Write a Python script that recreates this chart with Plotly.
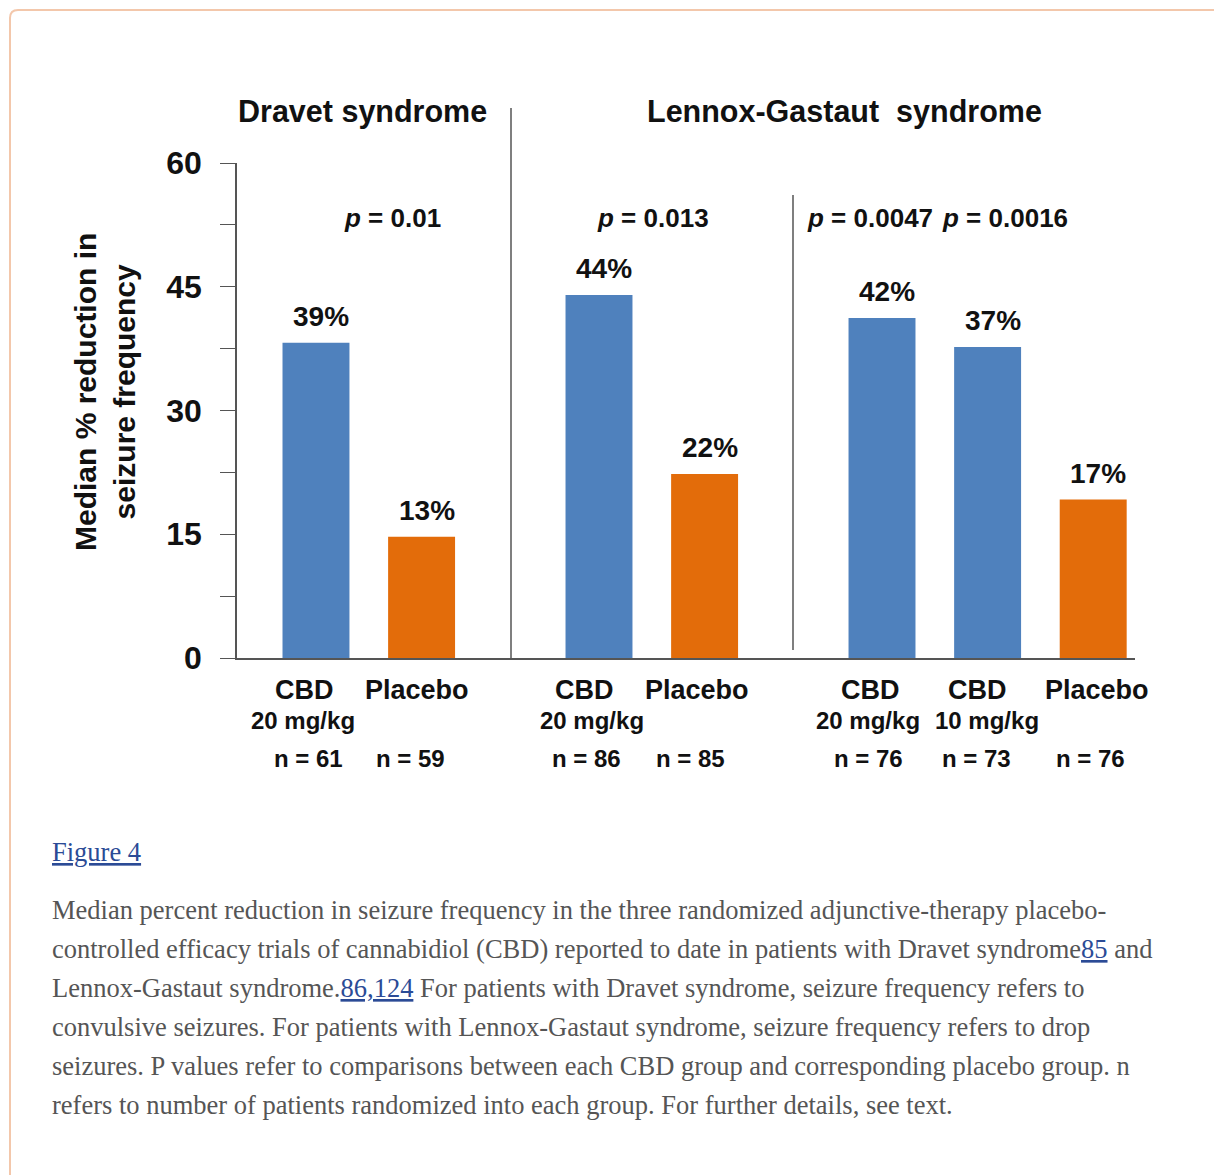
import plotly.graph_objects as go

# ---------------- data ----------------
group_titles = ["Dravet syndrome", "Lennox-Gastaut  syndrome"]
bar_group = [0, 0, 1, 1, 2, 2, 2]          # trial index of each bar
arms = ["CBD", "Placebo", "CBD", "Placebo", "CBD", "CBD", "Placebo"]
doses = ["20 mg/kg", "", "20 mg/kg", "", "20 mg/kg", "10 mg/kg", ""]
n_patients = [61, 59, 86, 85, 76, 73, 76]
bar_values = [38.2, 14.7, 44.0, 22.3, 41.2, 37.7, 19.2]   # drawn bar heights
value_labels = ["39%", "13%", "44%", "22%", "42%", "37%", "17%"]
p_values = ["0.01", "0.013", "0.0047", "0.0016"]
y_ticks = [0, 7.5, 15, 22.5, 30, 37.5, 45, 52.5, 60]
y_tick_labels = ["0", "", "15", "", "30", "", "45", "", "60"]

caption_lines = [
    "Median percent reduction in seizure frequency in the three randomized adjunctive-therapy placebo-",
    "controlled efficacy trials of cannabidiol (CBD) reported to date in patients with Dravet syndrome{L}85{E} and",
    "Lennox-Gastaut syndrome.{L}86,124{E} For patients with Dravet syndrome, seizure frequency refers to",
    "convulsive seizures. For patients with Lennox-Gastaut syndrome, seizure frequency refers to drop",
    "seizures. P values refer to comparisons between each CBD group and corresponding placebo group. n",
    "refers to number of patients randomized into each group. For further details, see text.",
]

# ---------------- layout helpers ----------------
# figure is placed at page (8, 8) by the default body margin
W, H = 1214, 1167
PLOT_L, PLOT_R, PLOT_T, PLOT_B = 237, 1135, 163, 658      # page pixels
ML, MT = PLOT_L - 8, PLOT_T - 8
MR, MB = W - (PLOT_R - 8), H - (PLOT_B - 8)
PW, PH = PLOT_R - PLOT_L, PLOT_B - PLOT_T
STEP, GAP = 1.0, 0.68
SCALE = 105.6                      # px per x unit
X0 = -0.748


def px_x(px):
    return (px - PLOT_L) / PW


def px_y(py):
    return (PLOT_B - py) / PH


# x positions from group and index (layout, not data)
xpos = [i * STEP + g * GAP for i, g in enumerate(bar_group)]

# small per-label horizontal nudges (px) for the category text rows
arm_dx = [-11, -5, -15, -8, -12, -10, 4]
dose_dx = [-13, 0, -7, 0, -14, -1, 0]
n_dx = [-7, -11, -13, -14, -14, -11, -3]

BLUE = "#4f81bd"
ORANGE = "#e36c0a"
colors = [ORANGE if a == "Placebo" else BLUE for a in arms]

SANS = "Liberation Sans, Arial, sans-serif"
SERIF = "Liberation Serif, Times New Roman, serif"
AXIS_COL = "#555555"
TXT = "#111111"

fig = go.Figure()
fig.add_trace(go.Bar(
    x=xpos, y=bar_values, width=0.634,
    marker=dict(color=colors, line=dict(width=0)),
    hoverinfo="skip",
))

ann = []
# value labels
for x, v, t in zip(xpos, bar_values, value_labels):
    ann.append(dict(x=x, y=v, xref="x", yref="y", text=t, showarrow=False,
                    xanchor="center", yanchor="bottom", xshift=5, yshift=9,
                    font=dict(family=SANS, size=28, color=TXT, weight="bold")))

# category labels
for i, (x, a, d, n) in enumerate(zip(xpos, arms, doses, n_patients)):
    ann.append(dict(x=x, y=px_y(690), xref="x", yref="paper", text=a, showarrow=False,
                    xanchor="center", yanchor="middle", xshift=arm_dx[i],
                    font=dict(family=SANS, size=27, color=TXT, weight="bold")))
    if d:
        ann.append(dict(x=x, y=px_y(720), xref="x", yref="paper", text=d, showarrow=False,
                        xanchor="center", yanchor="middle", xshift=dose_dx[i],
                        font=dict(family=SANS, size=24, color=TXT, weight="bold")))
    ann.append(dict(x=x, y=px_y(758), xref="x", yref="paper", text=f"n = {n}", showarrow=False,
                    xanchor="center", yanchor="middle", xshift=n_dx[i],
                    font=dict(family=SANS, size=24, color=TXT, weight="bold")))

# group titles
title_px = [362, 844]
for t, px in zip(group_titles, title_px):
    ann.append(dict(x=px_x(px), y=px_y(111), xref="paper", yref="paper", text=t,
                    xanchor="center", yanchor="middle", showarrow=False,
                    font=dict(family=SANS, size=30.5, color=TXT, weight="bold")))

# p values
p_px = [392, 653, 870, 1005]
for p, px in zip(p_values, p_px):
    ann.append(dict(x=px_x(px), y=px_y(218), xref="paper", yref="paper",
                    text=f"<i>p</i> = {p}", showarrow=False,
                    xanchor="center", yanchor="middle",
                    font=dict(family=SANS, size=26, color=TXT, weight="bold")))

# y axis title
ann.append(dict(x=px_x(105), y=px_y(392), xref="paper", yref="paper",
                text="Median % reduction in<br>seizure frequency", textangle=-90,
                xanchor="center", yanchor="middle", showarrow=False,
                font=dict(family=SANS, size=30, color=TXT, weight="bold")))

# caption
LINK = "#2b4b96"
ann.append(dict(x=px_x(50), y=px_y(852), xref="paper", yref="paper",
                xanchor="left", yanchor="middle",
                text=f"<span style='color:{LINK}'><u>Figure 4</u></span>", showarrow=False,
                font=dict(family=SERIF, size=26.5, color=LINK)))
for i, line in enumerate(caption_lines):
    txt = line.replace("{L}", f"<span style='color:{LINK}'><u>").replace("{E}", "</u></span>")
    ann.append(dict(x=px_x(50), y=px_y(910 + 39 * i), xref="paper", yref="paper",
                    xanchor="left", yanchor="middle", text=txt, showarrow=False,
                    font=dict(family=SERIF, size=26.5, color="#555555")))

shapes = [
    # dividers
    dict(type="line", xref="paper", yref="paper", x0=px_x(511), x1=px_x(511),
         y0=0, y1=px_y(108), line=dict(color=AXIS_COL, width=1.5)),
    dict(type="line", xref="paper", yref="paper", x0=px_x(793), x1=px_x(793),
         y0=px_y(650), y1=px_y(195), line=dict(color=AXIS_COL, width=1.5)),
]
# page border (rounded top-left corner)
bx, by, r = 10, 10, 8
path = (f"M {px_x(bx)},{px_y(H + 40)} L {px_x(bx)},{px_y(by + r)} "
        f"Q {px_x(bx)},{px_y(by)} {px_x(bx + r)},{px_y(by)} L {px_x(W + 40)},{px_y(by)}")
shapes.append(dict(type="path", xref="paper", yref="paper", path=path,
                   line=dict(color="#f3c7ab", width=2)))

fig.update_layout(
    width=W, height=H,
    margin=dict(l=ML, r=MR, t=MT, b=MB, pad=0),
    plot_bgcolor="white", paper_bgcolor="white",
    showlegend=False,
    xaxis=dict(range=[X0, X0 + PW / SCALE], showgrid=False, zeroline=False,
               showticklabels=False, ticks="", showline=True, linecolor=AXIS_COL,
               linewidth=1.5, fixedrange=True),
    yaxis=dict(range=[0, 60], tickvals=y_ticks, ticktext=y_tick_labels,
               ticks="outside", ticklen=15, tickwidth=1.2, tickcolor=AXIS_COL,
               showgrid=False, zeroline=False, showline=True, linecolor=AXIS_COL,
               linewidth=1.5, ticklabelstandoff=12,
               tickfont=dict(family=SANS, size=32, color=TXT, weight="bold"),
               fixedrange=True),
    annotations=ann,
    shapes=shapes,
)

fig.write_html("out.html")
